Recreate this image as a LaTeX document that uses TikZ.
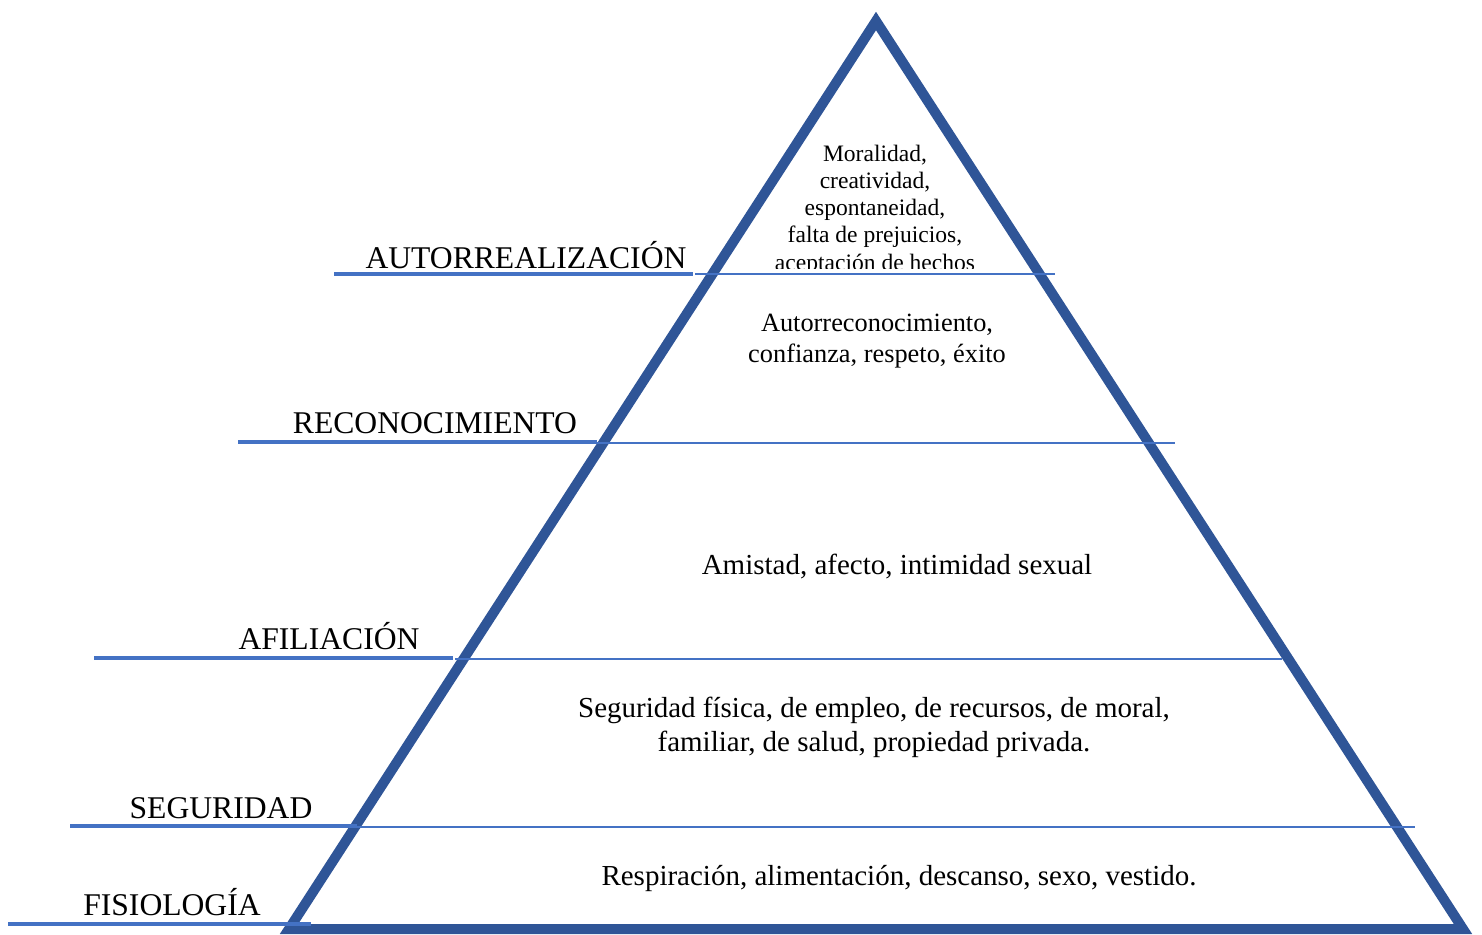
\documentclass[tikz,border=0pt]{standalone}
\usepackage{fontspec}
\setmainfont{Liberation Serif}
\definecolor{pyrblue}{HTML}{2F5597}
\definecolor{lineblue}{HTML}{4472C4}
\begin{document}
\begin{tikzpicture}[x=0.02cm,y=-0.02cm,
    level/.style={font=\fontsize{18}{21}\selectfont,anchor=base,inner sep=0pt},
    need/.style={align=center,inner sep=0pt,font=\fontsize{16.5}{19.3}\selectfont}]
  \useasboundingbox (0,0) rectangle (1482,934);
  \coordinate (apex) at (876,21);
  \coordinate (left) at (289,929);
  \coordinate (right) at (1463,929);
  \draw[pyrblue,line width=5.7pt] (apex) -- (left) -- (right) -- cycle;
  \foreach \y/\a/\b in {274/695/1055, 443/597/1175, 659/455/1282, 827/355/1415}
    \draw[lineblue,line width=1pt] (\a,\y) -- (\b,\y);
  \foreach \y/\a/\b in {274/334/693, 442/238/597, 658/94/453, 826/70/357, 924/8/311}
    \draw[lineblue,line width=2.8pt] (\a,\y) -- (\b,\y);
  \node[level] (autorrealizacion) at (526,268) {AUTORREALIZACIÓN};
  \node[level] (reconocimiento) at (435,433) {RECONOCIMIENTO};
  \node[level] (afiliacion) at (329,649) {AFILIACIÓN};
  \node[level] (seguridad) at (221,818) {SEGURIDAD};
  \node[level] (fisiologia) at (172,915) {FISIOLOGÍA};
  \begin{scope}
    \clip (700,0) rectangle (1050,268);
    \node[need,font=\fontsize{13.4}{15.5}\selectfont] (moralidad) at (875,210)
      {Moralidad,\\ creatividad,\\ espontaneidad,\\ falta de prejuicios,\\ aceptación de hechos};
  \end{scope}
  \node[need,font=\fontsize{15}{17.6}\selectfont] (autorreconocimiento) at (877,341)
    {Autorreconocimiento,\\ confianza, respeto, éxito};
  \node[need] (amistad) at (897,567) {Amistad, afecto, intimidad sexual};
  \node[need] (seguridadfisica) at (874,727)
    {Seguridad física, de empleo, de recursos, de moral,\\ familiar, de salud, propiedad privada.};
  \node[need] (respiracion) at (899,878) {Respiración, alimentación, descanso, sexo, vestido.};
\end{tikzpicture}
\end{document}
